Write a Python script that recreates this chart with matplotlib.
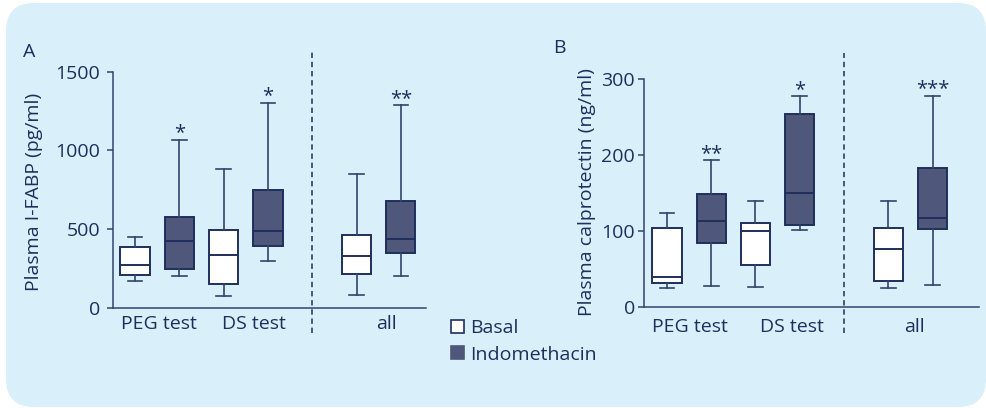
import matplotlib
matplotlib.use("Agg")
import matplotlib.pyplot as plt
from matplotlib.patches import FancyBboxPatch, Patch

plt.rcParams['font.family'] = ['Open Sans', 'DejaVu Sans']

# Box statistics per group: PEG test, DS test, all
groups = ["PEG test", "DS test", "all"]

# Panel A: plasma I-FABP (pg/ml)
fabp_basal_lo = [173, 76, 83]
fabp_basal_q1 = [207, 152, 214]
fabp_basal_med = [271, 336, 332]
fabp_basal_q3 = [389, 493, 463]
fabp_basal_hi = [453, 880, 853]
fabp_indo_lo = [203, 298, 203]
fabp_indo_q1 = [245, 394, 351]
fabp_indo_med = [427, 491, 440]
fabp_indo_q3 = [576, 747, 679]
fabp_indo_hi = [1066, 1303, 1287]
fabp_stars = ["*", "*", "**"]

# Panel B: plasma calprotectin (ng/ml)
calp_basal_lo = [25, 27, 25]
calp_basal_q1 = [31.5, 55.6, 34.6]
calp_basal_med = [39.4, 99.9, 76.6]
calp_basal_q3 = [104, 110.4, 104]
calp_basal_hi = [123.5, 139.7, 139.7]
calp_indo_lo = [28, 102, 29]
calp_indo_q1 = [85, 108, 103]
calp_indo_med = [114, 150, 118]
calp_indo_q3 = [148.5, 254.4, 183.5]
calp_indo_hi = [193, 277, 278]
calp_stars = ["**", "*", "***"]

pos_basal = [1, 3, 6]
pos_indo = [2, 4, 7]

NAVY = "#1f2e5c"
LINE = "#34436c"
DARK = "#4f587b"
BG = "#d9f0fa"


def make_stats(lo, q1, med, q3, hi):
    return [dict(whislo=a, q1=b, med=c, q3=d, whishi=e, fliers=[])
            for a, b, c, d, e in zip(lo, q1, med, q3, hi)]


def draw_boxes(ax, stats, positions, face):
    ax.bxp(stats, positions=positions, widths=0.66, patch_artist=True,
           showfliers=False, manage_ticks=False,
           boxprops=dict(facecolor=face, edgecolor=NAVY, linewidth=1.4),
           medianprops=dict(color=NAVY, linewidth=1.4),
           whiskerprops=dict(color=LINE, linewidth=1.2),
           capprops=dict(color=LINE, linewidth=1.2))


fig = plt.figure(figsize=(9.86, 4.08), dpi=100)

# rounded light-blue panel behind everything
bg = fig.add_axes([0, 0, 1, 1], zorder=-1)
bg.set_xlim(0, 986)
bg.set_ylim(0, 408)
bg.axis("off")
bg.add_patch(FancyBboxPatch((6, 1), 980, 404,
                            boxstyle="round,pad=0,rounding_size=28",
                            facecolor=BG, edgecolor="none"))

panels = [
    dict(rect=[0.1146, 0.2451, 0.3171, 0.5792], ylim=(0, 1500),
         yticks=[0, 500, 1000, 1500], xlim=(0.505, 7.56),
         basal=make_stats(fabp_basal_lo, fabp_basal_q1, fabp_basal_med,
                          fabp_basal_q3, fabp_basal_hi),
         indo=make_stats(fabp_indo_lo, fabp_indo_q1, fabp_indo_med,
                         fabp_indo_q3, fabp_indo_hi),
         tops=fabp_indo_hi, stars=fabp_stars,
         labelpos=[1.55, 3.68, 6.67], xpad=5, ypad=4.8,
         ylabel="Plasma I-FABP (pg/ml)", letter="A",
         letter_xy=(23, 52), ylabel_x=34, dash=(-0.106, 1.083)),
    dict(rect=[0.6535, 0.2468, 0.3395, 0.5596], ylim=(0, 300),
         yticks=[0, 100, 200, 300], xlim=(0.49, 8.05),
         basal=make_stats(calp_basal_lo, calp_basal_q1, calp_basal_med,
                          calp_basal_q3, calp_basal_hi),
         indo=make_stats(calp_indo_lo, calp_indo_q1, calp_indo_med,
                         calp_indo_q3, calp_indo_hi),
         tops=calp_indo_hi, stars=calp_stars,
         labelpos=[1.52, 3.83, 6.6], xpad=8, ypad=2.4,
         ylabel="Plasma calprotectin (ng/ml)", letter="B",
         letter_xy=(553, 48), ylabel_x=587, dash=(-0.113, 1.114)),
]

for p in panels:
    ax = fig.add_axes(p["rect"])
    ax.set_facecolor("none")
    draw_boxes(ax, p["basal"], pos_basal, "white")
    draw_boxes(ax, p["indo"], pos_indo, DARK)
    ax.set_xlim(*p["xlim"])
    ax.set_ylim(*p["ylim"])
    ax.set_yticks(p["yticks"])
    ax.set_xticks(p["labelpos"])
    ax.set_xticklabels(groups)
    ax.tick_params(axis="x", length=0, pad=p["xpad"], labelsize=14,
                   labelcolor=NAVY)
    ax.tick_params(axis="y", length=4.5, width=1.1, color=LINE,
                   pad=p["ypad"], labelsize=14, labelcolor=NAVY)
    for s in ["top", "right"]:
        ax.spines[s].set_visible(False)
    for s in ["left", "bottom"]:
        ax.spines[s].set_color(LINE)
        ax.spines[s].set_linewidth(1.1)

    # separator between the single tests and the pooled data
    ax.axvline(5, ymin=p["dash"][0], ymax=p["dash"][1], color=NAVY,
               linewidth=1.1, linestyle=(0, (3.5, 2.5)), clip_on=False)

    # significance markers just above the indomethacin whiskers
    for x, top, star in zip(pos_indo, p["tops"], p["stars"]):
        ax.annotate(star, (x, top), xytext=(0, -2.5),
                    textcoords="offset points", ha="center", va="bottom",
                    fontsize=14.5, color=NAVY, annotation_clip=False)

    fig.text(p["ylabel_x"] / 986, 1 - 192 / 408, p["ylabel"], rotation=90,
             ha="center", va="center", fontsize=14, color=NAVY)
    fig.text(p["letter_xy"][0] / 986, 1 - p["letter_xy"][1] / 408,
             p["letter"], ha="left", va="center", fontsize=14, color=NAVY)

handles = [Patch(facecolor="white", edgecolor=NAVY, linewidth=1.2),
           Patch(facecolor=DARK, edgecolor=DARK, linewidth=1.2)]
fig.legend(handles, ["Basal", "Indomethacin"], loc="upper left",
           bbox_to_anchor=(451 / 986, 1 - 319 / 408), frameon=False,
           fontsize=14, labelcolor=NAVY, handlelength=0.65,
           handleheight=0.65, handletextpad=0.35, labelspacing=0.45,
           borderpad=0, borderaxespad=0)

fig.savefig("out.png", dpi=100)
